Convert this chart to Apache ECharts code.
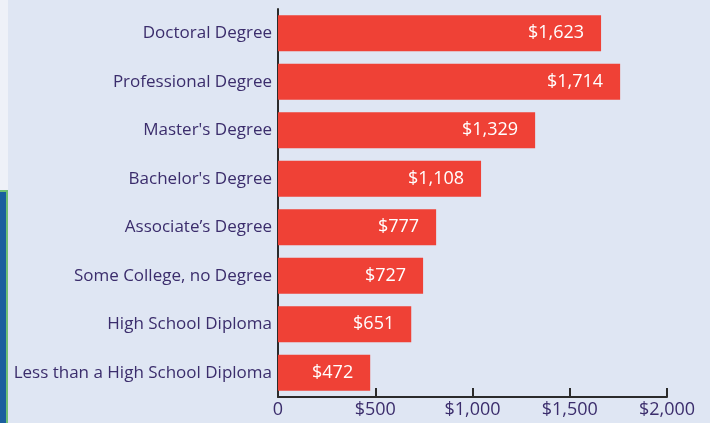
<!DOCTYPE html>
<html>
<head>
<meta charset="utf-8">
<script src="https://cdn.jsdelivr.net/npm/echarts@6/dist/echarts.min.js"></script>
<style>
html,body{margin:0;padding:0;background:#dfe6f3;}
#c{width:710px;height:423px;}
</style>
</head>
<body>
<div id="c"></div>
<script>
const categories = ["Doctoral Degree","Professional Degree","Master's Degree","Bachelor's Degree","Associate\u2019s Degree","Some College, no Degree","High School Diploma","Less than a High School Diploma"];
const barValues = [1661, 1759, 1322, 1044, 813, 746, 685, 474];
const valueLabels = ["$1,623","$1,714","$1,329","$1,108","$777","$727","$651","$472"];
const tickLabels = {0:"0",500:"$500",1000:"$1,000",1500:"$1,500",2000:"$2,000"};

const font = "Open Sans";
const textColor = "#3b2d6c";
const chart = echarts.init(document.getElementById('c'));
chart.setOption({
  backgroundColor: "#dfe6f3",
  animation: false,
  graphic: [
    {type:'rect', shape:{x:0,y:0,width:8,height:190}, style:{fill:'#eef1f8'}, silent:true},
    {type:'rect', shape:{x:0,y:190,width:8,height:233}, style:{fill:'#1a5f9e'}, silent:true},
    {type:'rect', shape:{x:6,y:190,width:2,height:233}, style:{fill:'#6fbf73'}, silent:true},
    {type:'rect', shape:{x:0,y:190,width:8,height:2}, style:{fill:'#6fbf73'}, silent:true}
  ],
  grid: {left: 278, right: 43, top: 9, bottom: 26, containLabel: false},
  xAxis: {
    type: 'value', min: 0, max: 2000, interval: 500,
    axisLine: {show: true, lineStyle: {color: '#2b2b2b', width: 2}},
    axisTick: {show: true, inside: true, length: 9, lineStyle: {color: '#2b2b2b', width: 2}},
    splitLine: {show: false},
    axisLabel: {color: textColor, fontFamily: font, fontSize: 18, margin: 4,
      formatter: v => tickLabels[v] !== undefined ? tickLabels[v] : ''}
  },
  yAxis: {
    type: 'category', data: categories, inverse: true,
    axisLine: {show: true, lineStyle: {color: '#2b2b2b', width: 2}},
    axisTick: {show: false},
    axisLabel: {color: textColor, fontFamily: font, fontSize: 17, margin: 6}
  },
  series: [{
    type: 'bar', data: barValues, barWidth: 36,
    itemStyle: {color: '#ef4136'},
    label: {show: true, position: 'insideRight', distance: 17, color: '#ffffff',
      fontFamily: font, fontSize: 18,
      formatter: p => valueLabels[p.dataIndex]}
  }]
});
</script>
</body>
</html>
